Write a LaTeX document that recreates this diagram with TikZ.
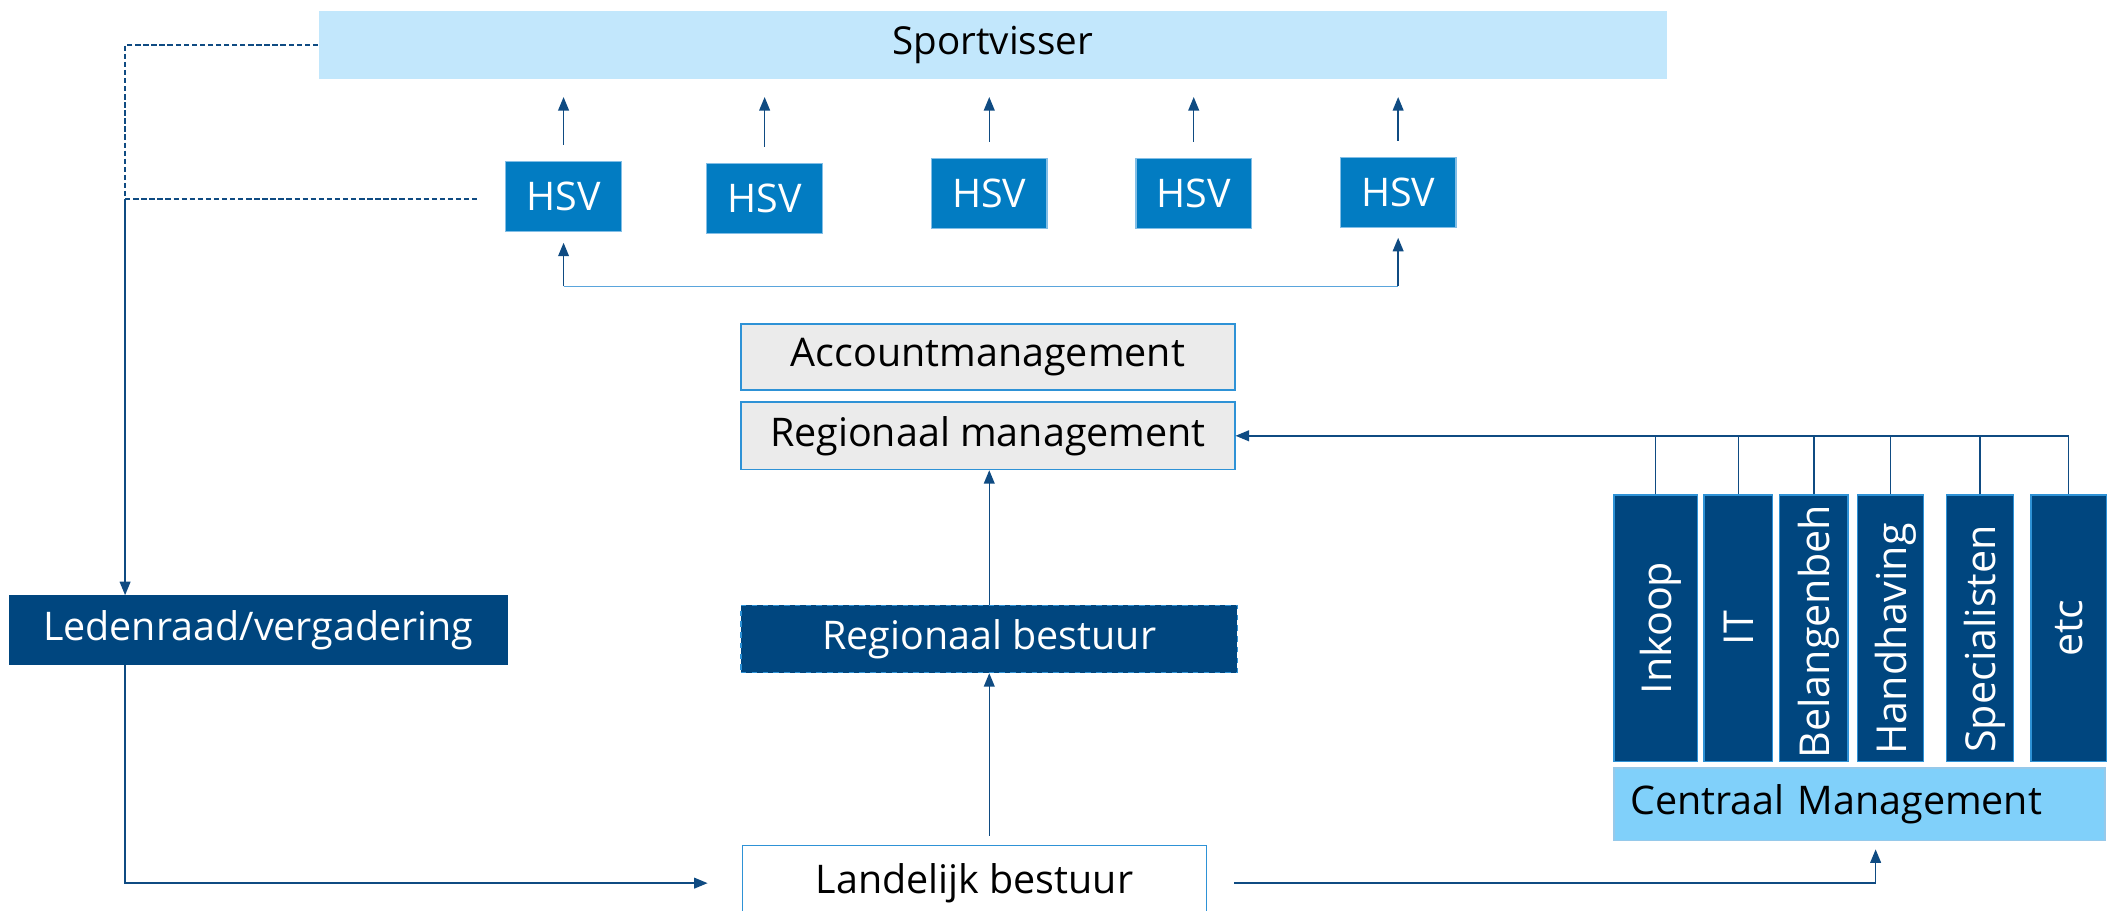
\documentclass[tikz,border=0pt]{standalone}
\usepackage{fontspec}
\setmainfont{Open Sans}
\usetikzlibrary{arrows.meta}

\definecolor{darkblue}{RGB}{0,70,127}
\definecolor{hsvblue}{RGB}{2,124,194}
\definecolor{skyblue}{RGB}{194,231,252}
\definecolor{cmblue}{RGB}{128,208,250}
\definecolor{panelgray}{RGB}{235,235,235}
\definecolor{edgeblue}{RGB}{46,146,214}
\definecolor{linkblue}{RGB}{15,75,130}
\definecolor{paleblue}{RGB}{90,165,220}

\tikzset{every picture/.style={line width=0.75pt}}
\tikzset{
  txt/.style={font=\fontsize{22}{26}\selectfont, inner sep=0pt},
  topbox/.style={txt, fill=skyblue},
  hsvbox/.style={txt, fill=hsvblue, draw=edgeblue!60, text=white, minimum width=64.5pt, minimum height=39pt},
  darkbox/.style={txt, fill=darkblue, draw=darkblue, text=white},
  graybox/.style={txt, fill=panelgray, draw=edgeblue, line width=0.9pt},
  whitebox/.style={txt, fill=white, draw=edgeblue, line width=0.9pt},
  cmbox/.style={txt, fill=cmblue, draw=edgeblue!50, align=left, inner xsep=9pt, text width=255.75pt},
  colbox/.style={txt, fill=darkblue, draw=edgeblue, rotate=90, text=white, minimum width=148.5pt, font=\fontsize{23}{27}\selectfont},
  conn/.style={draw=linkblue, line width=0.8pt},
  arr/.style={-{Triangle[length=7.5pt,width=6pt]}}
}

\begin{document}
\begin{tikzpicture}[x=0.75pt,y=0.75pt,yscale=-1,xscale=1]
\useasboundingbox (0,0) rectangle (1568,677);

%Shape: Rectangle [Sportvisser]
\node[topbox, minimum width=751.5pt, minimum height=38.25pt, font=\fontsize{21.5}{25}\selectfont] (sport) at (738,33.5) {Sportvisser};

%Shape: Rectangle [HSV row]
\foreach \n/\x/\y in {1/419/146, 2/568.5/147.5, 3/735.5/144, 4/887.5/144, 5/1039.5/143}
  \node[hsvbox] (hsv\n) at (\x,\y) {HSV};

%Straight Lines [HSV to Sportvisser]
\foreach \n in {1,...,5}
  \draw[conn, arr, shorten <=9pt, shorten >=9.5pt] (hsv\n.north) -- (hsv\n.north |- sport.south);

%Straight Lines [bracket under HSV]
\coordinate (brk) at (0,213);
\draw[conn, draw=paleblue] (hsv1.south |- brk) -- (hsv5.south |- brk);
\draw[conn, arr, shorten >=6pt] (hsv1.south |- brk) -- (hsv1.south);
\draw[conn, arr, shorten >=5.5pt] (hsv5.south |- brk) -- (hsv5.south);

%Shape: Rectangle [management]
\node[graybox, minimum width=275.25pt, minimum height=36.75pt] (acc) at (734.5,265.5) {Accountmanagement};
\node[graybox, minimum width=275.25pt, minimum height=37.5pt] (regm) at (734.5,324) {Regionaal management};

%Shape: Rectangle [besturen]
\node[darkbox, draw=edgeblue, dashed, minimum width=276.75pt, minimum height=37.5pt] (regb) at (735.5,475) {Regionaal bestuur};
\node[whitebox, minimum width=258.75pt, minimum height=42pt, anchor=north] (land) at (724.5,628) {Landelijk bestuur};
\node[darkbox, minimum width=277.5pt, minimum height=38.25pt] (leden) at (192,468.5) {Ledenraad/vergadering};

%Straight Lines [left loop]
\coordinate (lt) at (93,148);
\draw[conn, dash pattern=on 3pt off 1.5pt] (sport.west) -| (lt);
\draw[conn, dash pattern=on 3pt off 1.5pt, shorten >=14pt] (lt) -- (lt -| hsv1.west);
\draw[conn, arr] (lt) -- (lt |- leden.north);
\draw[conn, arr, shorten >=19pt] (lt |- leden.south) |- (land.west);

%Straight Lines [upwards]
\draw[conn, arr, shorten <=5pt] (regb.south |- land.north) -- (regb.south);
\draw[conn, arr] (regb.north) -- (regb.north |- regm.south);

%Shape: Rectangle [centraal]
\node[cmbox, minimum height=40.5pt] (cm) at (1382.5,598) {Centraal Management};
\draw[conn, arr, shorten <=15pt, shorten >=4.5pt] (land.east) -| ([xshift=9pt]cm.south);

%Shape: Rectangle [afdelingen]
\foreach \c/\x/\w/\t/\s in {inkoop/1231/46.5pt/Inkoop/0pt, it/1292.5/38.25pt/IT/0pt, bel/1348.5/38.25pt/Belangenbeh/-4pt, hand/1405.5/36.75pt/Handhaving/-12pt, spec/1472/37.5pt/Specialisten/-12pt, etc/1538/42pt/etc/0pt}
  \node[colbox, minimum height=\w, text depth=0pt] (\c) at (\x,467) {\hspace*{\s}\t};

%Straight Lines [afdelingen to regionaal management]
\coordinate (bus) at (0,324);
\foreach \c in {inkoop,it,bel,hand,spec,etc}
  \draw[conn] (\c.east) -- (\c.east |- bus);
\draw[conn, arr] (etc.east |- bus) -- (regm.east);

\end{tikzpicture}
\end{document}
